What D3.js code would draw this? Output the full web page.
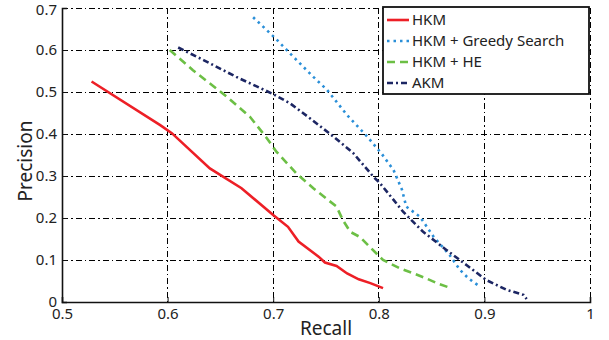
<!DOCTYPE html>
<meta charset="utf-8">
<style>
body { margin: 0; background: #fff; }
text { font-family: "Noto Sans", sans-serif; fill: #222; }
.grid line { stroke: #000; stroke-width: 1; stroke-dasharray: 6,3,1.5,3; shape-rendering: crispEdges; }
.tickLabel { font-size: 15px; }
.axisLabel { font-size: 19px; }
.legend text { font-size: 15px; }
</style>
<svg id="chart" width="609" height="340"></svg>
<script src="https://cdn.jsdelivr.net/npm/d3@7"></script>
<script>

const xTicks = [0.5, 0.6, 0.7, 0.8, 0.9, 1]
const yTicks = [0, 0.1, 0.2, 0.3, 0.4, 0.5, 0.6, 0.7]

const seriesNames = ["HKM", "HKM + Greedy Search", "HKM + HE", "AKM"]

const hkmRecall    = [0.528, 0.593, 0.604, 0.640, 0.670, 0.700, 0.714, 0.724, 0.743, 0.749, 0.760, 0.770, 0.781, 0.792, 0.804]
const hkmPrecision = [0.525, 0.421, 0.402, 0.318, 0.271, 0.207, 0.179, 0.144, 0.108, 0.094, 0.086, 0.068, 0.054, 0.045, 0.033]

const greedyRecall    = [0.681, 0.702, 0.719, 0.738, 0.751, 0.770, 0.789, 0.803, 0.814, 0.822, 0.826, 0.839, 0.852, 0.867, 0.877, 0.885, 0.895]
const greedyPrecision = [0.678, 0.628, 0.584, 0.536, 0.505, 0.445, 0.394, 0.352, 0.314, 0.267, 0.227, 0.203, 0.155, 0.112, 0.076, 0.056, 0.038]

const heRecall    = [0.602, 0.624, 0.656, 0.678, 0.694, 0.703, 0.722, 0.738, 0.760, 0.766, 0.773, 0.782, 0.804, 0.820, 0.833, 0.845, 0.856, 0.866]
const hePrecision = [0.600, 0.552, 0.489, 0.441, 0.390, 0.358, 0.306, 0.271, 0.227, 0.195, 0.167, 0.155, 0.100, 0.080, 0.068, 0.056, 0.044, 0.035]

const akmRecall    = [0.610, 0.634, 0.665, 0.700, 0.716, 0.735, 0.757, 0.776, 0.795, 0.801, 0.814, 0.823, 0.842, 0.864, 0.883, 0.902, 0.921, 0.937, 0.940]
const akmPrecision = [0.606, 0.576, 0.536, 0.495, 0.473, 0.437, 0.394, 0.354, 0.298, 0.283, 0.243, 0.215, 0.167, 0.124, 0.088, 0.052, 0.029, 0.017, 0.007]

const margin = {top: 8, right: 19, bottom: 38, left: 62},
    width = 609 - margin.left - margin.right,
    height = 340 - margin.top - margin.bottom

const svg = d3.select("#chart")
  .append("g")
    .attr("transform", `translate(${margin.left}, ${margin.top})`)

const x = d3.scaleLinear().domain([0.5, 1]).range([0, width])
const y = d3.scaleLinear().domain([0, 0.7]).range([height, 0])

//dash-dot grid, matlab style
const grid = svg.append("g").attr("class", "grid")
grid.selectAll(".gx")
  .data(xTicks.slice(1))
  .join("line")
    .attr("x1", d => x(d)).attr("x2", d => x(d))
    .attr("y1", 0).attr("y2", height)
grid.selectAll(".gy")
  .data(yTicks.slice(1))
  .join("line")
    .attr("class", "gy")
    .attr("x1", 0).attr("x2", width)
    .attr("y1", d => y(d)).attr("y2", d => y(d))

const series = [
  {name: seriesNames[0], r: hkmRecall, p: hkmPrecision, color: "#ed1f26", dash: null, w: 2.6},
  {name: seriesNames[1], r: greedyRecall, p: greedyPrecision, color: "#2a8fd8", dash: "2.5,4", w: 2.6},
  {name: seriesNames[2], r: heRecall, p: hePrecision, color: "#6cbf45", dash: "8,5", w: 2.6},
  {name: seriesNames[3], r: akmRecall, p: akmPrecision, color: "#1c2663", dash: "6,3,2,3", w: 2.6}
]

const line = d3.line()
  .x(d => x(d[0]))
  .y(d => y(d[1]))

svg.selectAll(".series")
  .data(series)
  .join("path")
    .attr("fill", "none")
    .attr("stroke", d => d.color)
    .attr("stroke-width", d => d.w)
    .attr("stroke-dasharray", d => d.dash)
    .attr("d", d => line(d.r.map((v, i) => [v, d.p[i]])))

//axes
const xAxis = svg.append("g")
  .attr("transform", `translate(0, ${height})`)
  .call(d3.axisBottom(x).tickValues(xTicks).tickSize(-5).tickPadding(8)
    .tickFormat(d => d === 1 ? "1" : d.toFixed(1)))
const yAxis = svg.append("g")
  .call(d3.axisLeft(y).tickValues(yTicks).tickSize(-5).tickPadding(5)
    .tickFormat(d => d === 0 ? "0" : d.toFixed(1)))

;[xAxis, yAxis].forEach(a => {
  a.select(".domain").attr("stroke", "#111").attr("stroke-width", 1.6)
  a.selectAll(".tick line").attr("stroke", "#111").attr("stroke-width", 1)
  a.selectAll(".tick text").attr("class", "tickLabel").attr("font-family", null).attr("font-size", null).attr("fill", "#222")
})
xAxis.selectAll(".tick text").attr("dy", "0.6em")
yAxis.selectAll(".tick text").filter(d => d === 0.7).attr("dy", "0.45em")

svg.append("text")
  .attr("class", "axisLabel")
  .attr("x", 264).attr("y", height + 33)
  .attr("text-anchor", "middle")
  .text("Recall")

svg.append("text")
  .attr("class", "axisLabel")
  .attr("transform", `translate(-30, ${height / 2 + 6}) rotate(-90)`)
  .attr("text-anchor", "middle")
  .text("Precision")

//legend
const legend = svg.append("g")
  .attr("class", "legend")
  .attr("transform", `translate(${383 - margin.left}, ${7 - margin.top})`)

legend.append("rect")
  .attr("width", 206).attr("height", 87)
  .attr("fill", "#fff")
  .attr("stroke", "#111")
  .attr("stroke-width", 1.8)

const items = legend.selectAll(".item")
  .data(series)
  .join("g")
    .attr("transform", (d, i) => `translate(0, ${13 + i * 21})`)

items.append("line")
  .attr("x1", 4).attr("x2", 26)
  .attr("stroke", d => d.color)
  .attr("stroke-width", d => d.w)
  .attr("stroke-dasharray", d => d.dash)

items.append("text")
  .attr("x", 29)
  .attr("dy", "0.35em")
  .text(d => d.name)

</script>
